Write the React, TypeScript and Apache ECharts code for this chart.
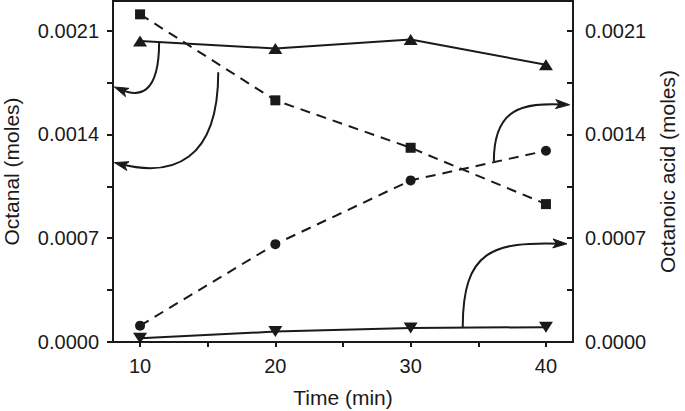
import React, { useEffect, useRef } from "react";
import * as echarts from "echarts";

// Data
const times = [10, 20, 30, 40];
const octanalTriangle = [0.00203, 0.00198, 0.00204, 0.00187];
const octanalSquare = [0.00221, 0.00163, 0.00131, 0.00093];
const acidCircle = [0.00011, 0.00066, 0.00109, 0.00129];
const acidTriangleDown = [0.000025, 0.00007, 0.000095, 0.0001];

// Axis tick / label values
const yTickValues = [0, 0.00035, 0.0007, 0.00105, 0.0014, 0.00175, 0.0021];
const yLabelValues = [0, 0.0007, 0.0014, 0.0021];
const xTickValues = [10, 15, 20, 25, 30, 35, 40];
const xLabelValues = [10, 20, 30, 40];

// Curved annotation arrows in data coordinates: start, cp1, cp2, end (tip)
const arrowCurves: number[][][] = [
  [[11.41, 0.002025], [11.41, 0.00166], [9.9, 0.00165], [8.1, 0.00172]],
  [[15.78, 0.00182], [15.78, 0.00122], [12.4, 0.00111], [8.1, 0.00121]],
  [[36.15, 0.00122], [36.15, 0.00158], [38.3, 0.001615], [41.75, 0.0016]],
  [[33.85, 0.000101], [33.85, 0.00062], [36.1, 0.000678], [41.55, 0.000662]],
];

const INK = "#1a1a1a";
const FONT = "Liberation Sans, Arial, Helvetica, sans-serif";

export default function App() {
  const ref = useRef<HTMLDivElement>(null);
  useEffect(() => {
    if (!ref.current) return;
    const chart = echarts.init(ref.current, undefined, { renderer: "svg" });
    const pair = (ys: number[]) => times.map((t, i) => [t, ys[i]]);
    const yAxisCommon = {
      type: "value",
      min: 0,
      max: 0.0023,
      splitLine: { show: false },
      axisLine: { show: true, lineStyle: { color: INK, width: 2 } },
      nameLocation: "middle",
      nameRotate: 90,
      nameTextStyle: { fontSize: 21, color: INK, fontFamily: FONT },
    };
    chart.setOption({
      animation: false,
      backgroundColor: "#ffffff",
      grid: {
        left: 113,
        right: 112,
        top: 1,
        bottom: 69,
        containLabel: false,
        outerBoundsMode: "none",
        show: true,
        borderColor: INK,
        borderWidth: 2,
      },
      xAxis: {
        type: "value",
        min: 8,
        max: 42,
        splitLine: { show: false },
        axisLine: { show: true, onZero: false, lineStyle: { color: INK, width: 2 } },
        axisTick: {
          show: true,
          length: 5,
          customValues: xTickValues,
          lineStyle: { color: INK, width: 2 },
        },
        axisLabel: {
          customValues: xLabelValues,
          margin: 14,
          fontSize: 20,
          color: INK,
          fontFamily: FONT,
        },
        name: "Time (min)",
        nameLocation: "middle",
        nameGap: 45,
        nameTextStyle: { fontSize: 21, color: INK, fontFamily: FONT },
      },
      yAxis: [
        {
          ...yAxisCommon,
          position: "left",
          name: "Octanal (moles)",
          nameGap: 91,
          axisTick: {
            show: true,
            length: 6,
            customValues: yTickValues,
            lineStyle: { color: INK, width: 2 },
          },
          axisLabel: {
            customValues: yLabelValues,
            margin: 14,
            fontSize: 20,
            color: INK,
            fontFamily: FONT,
            formatter: (v: number) => v.toFixed(4),
          },
        },
        {
          ...yAxisCommon,
          position: "right",
          name: "Octanoic acid (moles)",
          nameGap: 84,
          axisTick: {
            show: true,
            inside: true,
            length: 6,
            customValues: yTickValues,
            lineStyle: { color: INK, width: 2 },
          },
          axisLabel: {
            customValues: yLabelValues,
            margin: 12,
            fontSize: 20,
            color: INK,
            fontFamily: FONT,
            formatter: (v: number) => v.toFixed(4),
          },
        },
      ],
      series: [
        {
          name: "Octanal (triangle)",
          type: "line",
          yAxisIndex: 0,
          data: pair(octanalTriangle),
          symbol: "triangle",
          symbolSize: [14, 11],
          itemStyle: { color: INK },
          lineStyle: { color: INK, width: 2 },
        },
        {
          name: "Octanal (square)",
          type: "line",
          yAxisIndex: 0,
          data: pair(octanalSquare),
          symbol: "rect",
          symbolSize: 10,
          itemStyle: { color: INK },
          lineStyle: { color: INK, width: 2, type: [10, 7] },
        },
        {
          name: "Octanoic acid (circle)",
          type: "line",
          yAxisIndex: 1,
          data: pair(acidCircle),
          symbol: "circle",
          symbolSize: 10,
          itemStyle: { color: INK },
          lineStyle: { color: INK, width: 2, type: [10, 7] },
        },
        {
          name: "Octanoic acid (inverted triangle)",
          type: "line",
          yAxisIndex: 1,
          data: pair(acidTriangleDown),
          symbol: "triangle",
          symbolRotate: 180,
          symbolSize: [14, 11],
          itemStyle: { color: INK },
          lineStyle: { color: INK, width: 2 },
        },
      ],
    });

    const toPx = (p: number[]) =>
      chart.convertToPixel({ xAxisIndex: 0, yAxisIndex: 0 }, p) as number[];
    const graphics: any[] = [];
    arrowCurves.forEach((c) => {
      const [s, c1, c2, e] = c.map(toPx);
      const dx = e[0] - c2[0];
      const dy = e[1] - c2[1];
      const len = Math.hypot(dx, dy) || 1;
      const ux = dx / len;
      const uy = dy / len;
      const headLen = 14;
      const halfW = 4.5;
      const bx = e[0] - ux * headLen;
      const by = e[1] - uy * headLen;
      graphics.push({
        type: "bezierCurve",
        shape: {
          x1: s[0],
          y1: s[1],
          cpx1: c1[0],
          cpy1: c1[1],
          cpx2: c2[0],
          cpy2: c2[1],
          x2: e[0] - ux * 6,
          y2: e[1] - uy * 6,
        },
        style: { stroke: INK, lineWidth: 2, fill: null },
        z: 10,
      });
      graphics.push({
        type: "polygon",
        shape: {
          points: [
            [e[0], e[1]],
            [bx - uy * halfW, by + ux * halfW],
            [e[0] - ux * headLen * 0.75, e[1] - uy * headLen * 0.75],
            [bx + uy * halfW, by - ux * halfW],
          ],
        },
        style: { fill: INK, stroke: INK, lineWidth: 1 },
        z: 10,
      });
    });
    chart.setOption({ graphic: graphics });

    return () => chart.dispose();
  }, []);
  return (
    <div
      ref={ref}
      style={{ position: "fixed", left: 0, top: 0, width: 685, height: 411 }}
    />
  );
}
